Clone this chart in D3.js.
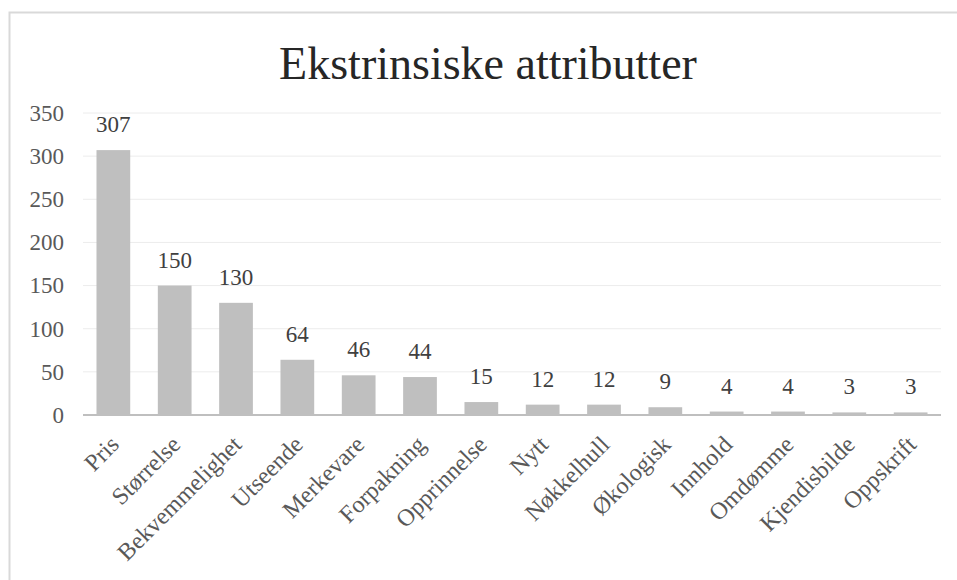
<!DOCTYPE html>
<html>
<head>
<meta charset="utf-8">
<script src="https://cdn.jsdelivr.net/npm/d3@7"></script>
<style>
  body { margin: 0; background: #fff; }
  svg text { font-family: "Liberation Serif", "Times New Roman", serif; }
</style>
</head>
<body>
<div id="chart"></div>
<script>
  var categories = ["Pris", "Størrelse", "Bekvemmelighet", "Utseende", "Merkevare", "Forpakning",
    "Opprinnelse", "Nytt", "Nøkkelhull", "Økologisk", "Innhold", "Omdømme", "Kjendisbilde", "Oppskrift"];
  var counts = [307, 150, 130, 64, 46, 44, 15, 12, 12, 9, 4, 4, 3, 3];
  var yTicks = [0, 50, 100, 150, 200, 250, 300, 350];
  var title = "Ekstrinsiske attributter";

  var width = 957, height = 580;
  var plotLeft = 83, plotRight = 941, plotTop = 113, plotBottom = 415;

  var svg = d3.select("#chart").append("svg")
    .attr("width", width)
    .attr("height", height);

  // chart frame
  svg.append("rect")
    .attr("x", 9.5).attr("y", 12.5)
    .attr("width", 980).attr("height", 600)
    .attr("fill", "none")
    .attr("stroke", "#d9d9d9")
    .attr("stroke-width", 2);

  svg.append("text")
    .attr("x", 488).attr("y", 79)
    .attr("text-anchor", "middle")
    .attr("font-size", 46)
    .attr("fill", "#262626")
    .text(title);

  var x = d3.scaleBand().domain(categories).range([plotLeft, plotRight]).paddingInner(0.45).paddingOuter(0.22);
  var y = d3.scaleLinear().domain([0, 350]).range([plotBottom, plotTop]);

  // gridlines
  svg.append("g").selectAll("line")
    .data(yTicks.filter(function(d){ return d > 0; }))
    .enter().append("line")
    .attr("x1", plotLeft).attr("x2", plotRight)
    .attr("y1", function(d){ return y(d); })
    .attr("y2", function(d){ return y(d); })
    .attr("stroke", "#ececec")
    .attr("stroke-width", 1);

  // y axis labels
  var yAxis = svg.append("g")
    .attr("transform", "translate(" + (plotLeft - 19) + ",0)")
    .call(d3.axisLeft(y).tickValues(yTicks).tickSize(0).tickPadding(0));
  yAxis.select(".domain").remove();
  yAxis.selectAll("text")
    .attr("font-size", 23)
    .attr("fill", "#595959")
    .attr("font-family", "Liberation Serif, serif");

  // bars
  svg.append("g").selectAll("rect")
    .data(counts)
    .enter().append("rect")
    .attr("x", function(d, i){ return x(categories[i]); })
    .attr("y", function(d){ return y(d); })
    .attr("width", x.bandwidth())
    .attr("height", function(d){ return y(0) - y(d); })
    .attr("fill", "#bfbfbf");

  // baseline
  svg.append("line")
    .attr("x1", plotLeft).attr("x2", plotRight)
    .attr("y1", y(0)).attr("y2", y(0))
    .attr("stroke", "#bfbfbf")
    .attr("stroke-width", 2);

  // value labels
  svg.append("g").selectAll("text")
    .data(counts)
    .enter().append("text")
    .attr("x", function(d, i){ return x(categories[i]) + x.bandwidth() / 2; })
    .attr("y", function(d){ return y(d) - 18; })
    .attr("text-anchor", "middle")
    .attr("font-size", 23)
    .attr("fill", "#404040")
    .text(function(d){ return d; });

  // category labels, rotated
  svg.append("g").selectAll("text")
    .data(categories)
    .enter().append("text")
    .attr("transform", function(d){
      var cx = x(d) + x.bandwidth() / 2;
      return "translate(" + (cx + 7) + "," + (plotBottom + 31) + ") rotate(-45)";
    })
    .attr("text-anchor", "end")
    .attr("font-size", 24)
    .attr("fill", "#595959")
    .text(function(d){ return d; });
</script>
</body>
</html>
